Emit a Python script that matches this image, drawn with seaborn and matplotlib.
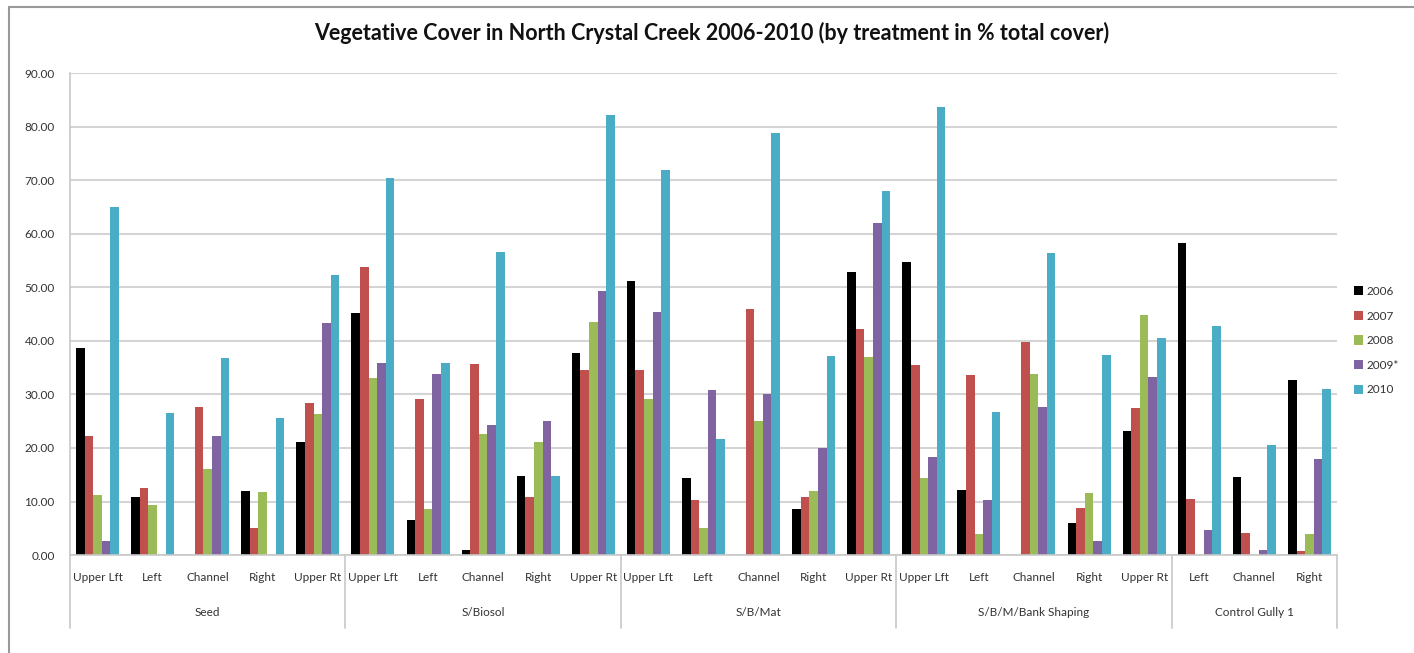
import pandas as pd
import matplotlib.pyplot as plt
import seaborn as sns
from matplotlib.patches import Rectangle

# 数据
groups = ['Seed', 'S/Biosol', 'S/B/Mat', 'S/B/M/Bank Shaping', 'Control Gully 1']
sites = [
    ['Upper Lft', 'Left', 'Channel', 'Right', 'Upper Rt'],
    ['Upper Lft', 'Left', 'Channel', 'Right', 'Upper Rt'],
    ['Upper Lft', 'Left', 'Channel', 'Right', 'Upper Rt'],
    ['Upper Lft', 'Left', 'Channel', 'Right', 'Upper Rt'],
    ['Left', 'Channel', 'Right'],
]
years = ['2006', '2007', '2008', '2009*', '2010']

v2006 = [38.6, 10.8, 0.0, 11.9, 21.2,
         45.2, 6.5, 0.9, 14.7, 37.8,
         51.2, 14.4, 0.0, 8.6, 52.9,
         54.8, 12.1, 0.0, 6.0, 23.1,
         58.3, 14.5, 32.7]
v2007 = [22.2, 12.6, 27.6, 5.0, 28.4,
         53.8, 29.2, 35.6, 10.8, 34.6,
         34.6, 10.2, 45.9, 10.8, 42.3,
         35.5, 33.7, 39.8, 8.8, 27.5,
         10.4, 4.2, 0.7]
v2008 = [11.3, 9.3, 16.0, 11.7, 26.4,
         33.0, 8.6, 22.7, 21.2, 43.6,
         29.1, 5.0, 25.0, 12.0, 37.0,
         14.4, 4.0, 33.9, 11.5, 44.9,
         0.0, 0.0, 4.0]
v2009 = [2.6, 0.0, 22.2, 0.0, 43.4,
         35.8, 33.8, 24.2, 25.0, 49.3,
         45.4, 30.9, 30.0, 20.0, 62.0,
         18.4, 10.2, 27.6, 2.7, 33.2,
         4.6, 1.0, 17.9]
v2010 = [65.0, 26.6, 36.8, 25.6, 52.3,
         70.4, 35.8, 56.6, 14.7, 82.2,
         72.0, 21.7, 78.8, 37.2, 68.0,
         83.7, 26.8, 56.4, 37.4, 40.5,
         42.8, 20.6, 31.1]

colors = ['#000000', '#C0504D', '#9BBB59', '#8064A2', '#4BACC6']

# 构建长表
keys, labels = [], []
for g, ss in zip(groups, sites):
    for s in ss:
        keys.append(g + '|' + s)
        labels.append(s)

rows = []
for yr, vals in zip(years, [v2006, v2007, v2008, v2009, v2010]):
    for k, v in zip(keys, vals):
        rows.append({'key': k, 'year': yr, 'value': v})
df = pd.DataFrame(rows)

sns.set_style('white')
plt.rcParams['font.family'] = ['Lato', 'DejaVu Sans']

fig = plt.figure(figsize=(14.14, 6.53), dpi=100)
ax = fig.add_axes([0.0495, 0.150, 0.896, 0.738])

sns.barplot(data=df, x='key', y='value', hue='year', order=keys,
            hue_order=years, palette=colors, width=0.78, ax=ax,
            linewidth=0, saturation=1, errorbar=None)

ax.set_ylim(0, 90)
ax.set_xlim(-0.5, len(keys) - 0.5)
ax.set_yticks(range(0, 91, 10))
ax.set_yticklabels([f'{t:.2f}' for t in range(0, 91, 10)], fontsize=8.5, color='#333333')
ax.set_xticks(range(len(keys)))
ax.set_xticklabels(labels, fontsize=8.5, color='#333333')
ax.tick_params(axis='x', length=0, pad=12)
ax.tick_params(axis='y', length=0, pad=11)
ax.set_xlabel('')
ax.set_ylabel('')
ax.yaxis.grid(True, color='#d4d4d4', linewidth=1.5)
ax.set_axisbelow(True)
for side in ['top', 'right']:
    ax.spines[side].set_visible(False)
for side in ['left', 'bottom']:
    ax.spines[side].set_color('#c8c8c8')
    ax.spines[side].set_linewidth(1.2)

# 分组分隔线和组标签
trans = ax.get_xaxis_transform()
bounds = [-0.5]
for ss in sites:
    bounds.append(bounds[-1] + len(ss))
for b in bounds:
    ax.plot([b, b], [0, -0.152], transform=trans, color='#c8c8c8',
            linewidth=1.2, clip_on=False)
for g, a, b in zip(groups, bounds[:-1], bounds[1:]):
    ax.text((a + b) / 2, -0.120, g, transform=trans, ha='center', va='center',
            fontsize=8.5, color='#333333')

# 图例
handles, _ = ax.get_legend_handles_labels()
ax.legend(handles, years, loc='center left', bbox_to_anchor=(1.005, 0.445),
          frameon=False, fontsize=8.5, handlelength=0.8, handleheight=0.8,
          handletextpad=0.3, labelspacing=1.15, labelcolor='#333333')

# 标题
fig.text(0.503, 0.950, 'Vegetative Cover in North Crystal Creek 2006-2010 (by treatment in % total cover)',
         ha='center', va='center', fontsize=15.5, fontweight='bold', color='#111111')

# 外框
fig.patches.append(Rectangle((0.0064, -0.05), 1.05, 1.04, transform=fig.transFigure,
                             fill=False, edgecolor='#999999', linewidth=1.5))

fig.savefig('out.png', dpi=100)
